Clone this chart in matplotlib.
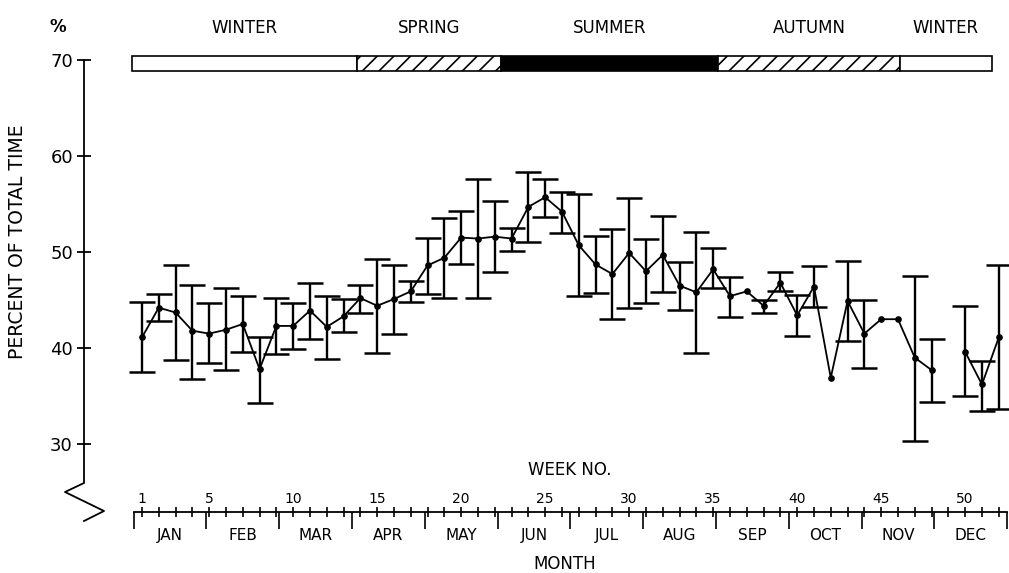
import matplotlib
matplotlib.use("Agg")
import matplotlib.pyplot as plt
from matplotlib.lines import Line2D
from matplotlib.patches import Rectangle
import numpy as np

# weekly share of time (%), with the upper / lower limits of each bar
weeks = np.arange(1, 53)
pct = [41.1, 44.2, 43.7, 41.8, 41.5, 41.9, 42.5, 37.8, 42.3, 42.3,
       43.9, 42.2, 43.3, 45.2, 44.4, 45.1, 45.9, 48.6, 49.4, 51.5,
       51.4, 51.6, 51.4, 54.7, 55.7, 54.2, 50.7, 48.7, 47.7, 49.9,
       48.0, 49.7, 46.5, 45.8, 48.2, 45.4, 45.9, 44.4, 46.8, 43.4,
       46.4, 36.9, 44.9, 41.5, 43.0, 43.0, 39.0, 37.7, np.nan, 39.6,
       36.2, 41.1]
upper = [44.8, 45.6, 48.6, 46.6, 44.7, 46.2, 45.4, 41.1, 45.2, 44.7,
         46.8, 45.4, 45.1, 46.6, 49.3, 48.6, 47.0, 51.5, 53.5, 54.3,
         57.6, 55.3, 52.5, 58.3, 57.6, 56.3, 56.0, 51.7, 52.4, 55.6,
         51.4, 53.7, 49.0, 52.1, 50.4, 47.4, np.nan, 45.0, 47.9, 45.5,
         48.5, np.nan, 49.1, 45.0, np.nan, np.nan, 47.5, 40.9, np.nan, 44.4,
         38.6, 48.6]
lower = [37.5, 42.8, 38.8, 36.8, 38.4, 37.7, 39.6, 34.3, 39.4, 39.9,
         40.9, 38.9, 41.7, 43.6, 39.5, 41.5, 44.8, 45.6, 45.2, 48.7,
         45.2, 47.9, 50.1, 51.0, 53.6, 52.0, 45.4, 45.7, 43.0, 44.2,
         44.7, 45.8, 44.0, 39.5, 46.2, 43.2, np.nan, 43.6, 45.9, 41.2,
         44.3, np.nan, 40.7, 37.9, np.nan, np.nan, 30.3, 34.4, np.nan, 35.0,
         33.4, 33.6]

seasons = ["WINTER", "SPRING", "SUMMER", "AUTUMN", "WINTER"]
season_edges = [0.4, 13.8, 22.4, 35.3, 46.1, 51.6]   # in weeks
season_fill = ["white", "white", "black", "white", "white"]
season_hatch = [None, "//", None, "//", None]

months = ["JAN", "FEB", "MAR", "APR", "MAY", "JUN",
          "JUL", "AUG", "SEP", "OCT", "NOV", "DEC"]
week_labels = [1, 5, 10, 15, 20, 25, 30, 35, 40, 45, 50]
yticks = [30, 40, 50, 60, 70]

# ── figure ───────────────────────────────────────────────────────────────────
W, H = 1009, 573
plt.rcParams["font.family"] = "DejaVu Sans"
plt.rcParams["hatch.linewidth"] = 1.2
fig = plt.figure(figsize=(W / 100, H / 100), dpi=100)
fig.patch.set_facecolor("white")


def fpos(x, y):
    """pixel position -> figure fraction"""
    return x / W, 1 - y / H


XLIM = (-2.45, 52.55)
ax = fig.add_axes([84 / W, 1 - 444 / H, 924 / W, 384 / H])
ax.set_xlim(*XLIM)
ax.set_ylim(30, 70)
for s in ("top", "right", "bottom"):
    ax.spines[s].set_visible(False)
ax.spines["left"].set_linewidth(1.3)
ax.set_xticks([])
ax.set_yticks(yticks)
ax.tick_params(axis="y", direction="inout", length=10, width=1.3,
               labelsize=13, pad=3)

# data line and error bars
pct = np.array(pct)
upper = np.array(upper)
lower = np.array(lower)
ax.plot(weeks, pct, "-o", color="black", lw=1.3, ms=3.8, clip_on=False, zorder=3)
has_bar = ~np.isnan(upper)
ax.errorbar(weeks[has_bar], pct[has_bar],
            yerr=[pct[has_bar] - lower[has_bar], upper[has_bar] - pct[has_bar]],
            fmt="none", ecolor="black", elinewidth=1.7, capsize=9.5, capthick=1.8,
            clip_on=False, zorder=2)

# season bar along the top
for i, name in enumerate(seasons):
    x0, x1 = season_edges[i], season_edges[i + 1]
    ax.add_patch(Rectangle((x0, 68.9), x1 - x0, 1.5, facecolor=season_fill[i],
                           edgecolor="black", lw=1.2, hatch=season_hatch[i],
                           clip_on=False))
    ax.text((x0 + x1) / 2, 73.3, name, ha="center", va="center",
            fontsize=12, clip_on=False)

# axis break below 30
brk = [fpos(84, 444), fpos(84, 483), fpos(65, 492), fpos(104, 511), fpos(84, 521)]
fig.add_artist(Line2D([p[0] for p in brk], [p[1] for p in brk],
                      color="black", lw=1.3, transform=fig.transFigure))

# week / month axis
ax2 = fig.add_axes([84 / W, 1 - 512 / H, 924 / W, 1e-4])
ax2.set_xlim(*XLIM)
for s in ("top", "right", "left"):
    ax2.spines[s].set_visible(False)
ax2.spines["bottom"].set_linewidth(1.3)
ax2.spines["bottom"].set_bounds(0.5, 52.5)
ax2.set_yticks([])
ax2.set_xticks(weeks)
ax2.set_xticklabels([str(w) if w in week_labels else "" for w in weeks])
month_edges = 0.5 + np.arange(13) * 52 / 12
ax2.set_xticks(month_edges, minor=True)
ax2.tick_params(axis="x", which="major", direction="inout", length=7, width=1.2,
                bottom=True, top=False, labelbottom=False, labeltop=True,
                labelsize=10, pad=1)
ax2.tick_params(axis="x", which="minor", direction="out", length=12, width=1.2,
                bottom=True, top=False, labelbottom=False, labeltop=False)
for k, m in enumerate(months):
    ax.text((month_edges[k] + month_edges[k + 1]) / 2, 20.5, m,
            ha="center", va="center", fontsize=11, clip_on=False)

# free labels
fig.text(*fpos(58, 27), "%", ha="center", va="center", fontsize=12, weight="bold")
fig.text(*fpos(18, 242), "PERCENT OF TOTAL TIME", rotation=90,
         ha="center", va="center", fontsize=13.5)
fig.text(*fpos(570, 470), "WEEK NO.", ha="center", va="center", fontsize=12)
fig.text(*fpos(565, 564), "MONTH", ha="center", va="center", fontsize=12)

fig.savefig("out.png", dpi=100, facecolor="white")
